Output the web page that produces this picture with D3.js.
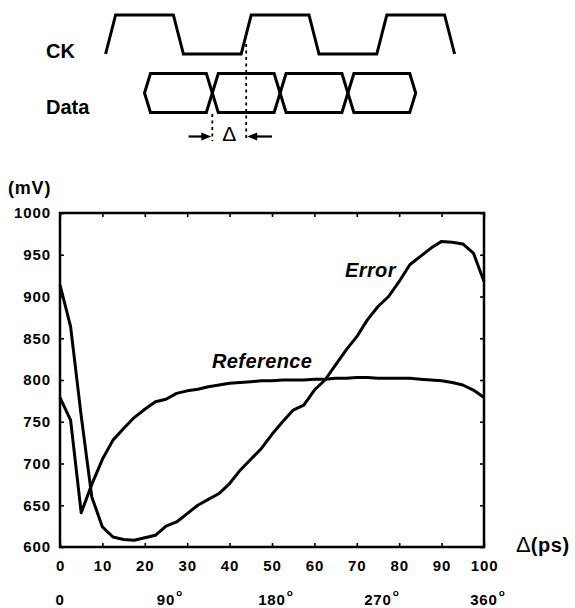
<!DOCTYPE html>
<html><head><meta charset="utf-8">
<script src="https://cdn.jsdelivr.net/npm/d3@7"></script>
<style>
body{margin:0;background:#fff;}
svg{display:block;font-family:"Liberation Sans",Arial,Helvetica,sans-serif;}
</style></head>
<body><svg id="c" width="575" height="608"></svg>
<script>
// ---- data ----
const psValues = [0,2.5,5,7.5,10,12.5,15,17.5,20,22.5,25,27.5,30,32.5,35,37.5,40,42.5,45,47.5,50,52.5,55,57.5,60,62.5,65,67.5,70,72.5,75,77.5,80,82.5,85,87.5,90,92.5,95,97.5,100];
const errorMV = [914,864,757,660,624,612,609,608,611,614,625,630,640,650,657,664,676,692,705,718,735,750,764,770,788,800,818,836,852,872,888,900,918,938,948,958,966,965,963,952,918];
const referenceMV = [779,752,641,675,705,728,742,755,765,774,777,784,787,789,792,794,796,797,798,799,799,800,800,800,801,801,802,802,803,803,802,802,802,802,801,800,799,797,794,788,779];
const xTicks = [0,10,20,30,40,50,60,70,80,90,100];
const yTicks = [600,650,700,750,800,850,900,950,1000];
const degreeTicks = [0,25,50,75,100];
const degreeLabels = ["0","90","180","270","360"];
// timing diagram (time in half clock periods)
const ckRises = [-1.5,0.5,2.5];
const ckFalls = [-0.5,1.5,3.5];
const dataCrossings = [-1,0,1,2,3];

const svg = d3.select("#c");
const x = d3.scaleLinear().domain([0,100]).range([60,484]);
const y = d3.scaleLinear().domain([600,1000]).range([547,213]);

function styleTicks(g){
  g.select(".domain").remove();
  g.selectAll(".tick line").attr("stroke","#000").attr("stroke-width",1.6);
  g.selectAll(".tick text").attr("font-size","15px").attr("font-weight","bold")
    .attr("fill","#000").attr("letter-spacing","0.9px").attr("font-family","'Liberation Sans',Arial,sans-serif");
}
svg.append("g").attr("transform","translate(0,547)")
  .call(d3.axisBottom(x).tickValues(xTicks).tickSize(-4).tickPadding(13.5).tickFormat(d3.format("d")))
  .call(styleTicks);
svg.append("g").attr("transform","translate(0,213)")
  .call(d3.axisTop(x).tickValues(xTicks).tickSize(-4).tickFormat(""))
  .call(styleTicks);
svg.append("g").attr("transform","translate(60,0)")
  .call(d3.axisLeft(y).tickValues(yTicks).tickSize(-4).tickPadding(9).tickFormat(d3.format("d")))
  .call(styleTicks);
svg.append("g").attr("transform","translate(484,0)")
  .call(d3.axisRight(y).tickValues(yTicks).tickSize(-4).tickFormat(""))
  .call(styleTicks);

// frame
svg.append("rect").attr("x",x(0)).attr("y",y(1000)).attr("width",x(100)-x(0)).attr("height",y(600)-y(1000))
  .attr("fill","none").attr("stroke","#000").attr("stroke-width",2.5);

// degree labels
const dg = svg.append("g");
degreeTicks.forEach((v,i)=>{
  const t = dg.append("text").attr("x",x(v)).attr("y",605).attr("text-anchor","middle")
    .attr("font-size","15px").attr("font-weight","bold").attr("letter-spacing","0.9px").text(degreeLabels[i]);
  if(i>0){
    const w = t.node().getComputedTextLength();
    dg.append("circle").attr("cx",x(v)+w/2+4).attr("cy",593.5).attr("r",2)
      .attr("fill","none").attr("stroke","#000").attr("stroke-width",1.2);
  }
});

// curves
const line = d3.line().x((d,i)=>x(psValues[i])).y(d=>y(d));
svg.append("path").datum(errorMV).attr("d",line).attr("fill","none").attr("stroke","#000")
  .attr("stroke-width",3).attr("stroke-linejoin","round");
svg.append("path").datum(referenceMV).attr("d",line).attr("fill","none").attr("stroke","#000")
  .attr("stroke-width",3).attr("stroke-linejoin","round");

// curve labels
svg.append("text").attr("x",212).attr("y",368).attr("font-size","20px").attr("font-weight","bold")
  .attr("font-style","italic").attr("letter-spacing","0.4px").text("Reference");
svg.append("text").attr("x",345).attr("y",277).attr("font-size","20px").attr("font-weight","bold")
  .attr("font-style","italic").attr("letter-spacing","0.4px").text("Error");

// axis titles
svg.append("text").attr("x",8).attr("y",194).attr("font-size","18px").attr("font-weight","bold")
  .attr("letter-spacing","0.8px").text("(mV)");
const xt = svg.append("text").attr("x",516).attr("y",551.5);
xt.append("tspan").attr("font-size","22px").text("Δ");
xt.append("tspan").attr("font-size","20px").attr("font-weight","bold").attr("letter-spacing","0.6px").text("(ps)");

// ---- timing diagram ----
const tx = d3.scaleLinear().domain([0,1]).range([212.3,280.1]);
const ckHigh = 15, ckLow = 54, dTop = 73.5, dBot = 112.5, dMid = 93;
const eh = 0.074, dh = 0.088;
let ckPts = [];
const edges = ckRises.map(t=>({t,up:true})).concat(ckFalls.map(t=>({t,up:false}))).sort((a,b)=>a.t-b.t);
edges.forEach(e=>{
  if(e.up){ ckPts.push([tx(e.t-eh),ckLow]); ckPts.push([tx(e.t+eh),ckHigh]); }
  else { ckPts.push([tx(e.t-eh),ckHigh]); ckPts.push([tx(e.t+eh),ckLow]); }
});
svg.append("path").attr("d",d3.line()(ckPts)).attr("fill","none").attr("stroke","#000")
  .attr("stroke-width",3).attr("stroke-linejoin","miter");
for(let i=0;i<dataCrossings.length-1;i++){
  const t0 = dataCrossings[i], t1 = dataCrossings[i+1];
  const pts = [[tx(t0),dMid],[tx(t0+dh),dTop],[tx(t1-dh),dTop],[tx(t1),dMid],[tx(t1-dh),dBot],[tx(t0+dh),dBot]];
  svg.append("path").attr("d",d3.line()(pts)+"Z").attr("fill","none").attr("stroke","#000")
    .attr("stroke-width",3).attr("stroke-linejoin","miter");
}
// dashed markers
svg.append("line").attr("x1",tx(0)).attr("x2",tx(0)).attr("y1",114).attr("y2",141)
  .attr("stroke","#000").attr("stroke-width",1.8).attr("stroke-dasharray","3,3.5");
svg.append("line").attr("x1",tx(0.5)).attr("x2",tx(0.5)).attr("y1",44).attr("y2",141)
  .attr("stroke","#000").attr("stroke-width",1.8).attr("stroke-dasharray","3,3.5");
// arrows
function arrow(x1,x2,yy){
  const s = Math.sign(x2-x1);
  svg.append("line").attr("x1",x1).attr("x2",x2 - s*6).attr("y1",yy).attr("y2",yy)
    .attr("stroke","#000").attr("stroke-width",2.2);
  svg.append("path").attr("d",`M${x2},${yy} L${x2-s*10},${yy-4} L${x2-s*10},${yy+4} Z`).attr("fill","#000");
}
arrow(tx(-0.35),tx(0)-1,136.5);
arrow(tx(0.88),tx(0.5)+1,136.5);
svg.append("text").attr("x",tx(0.25)).attr("y",141).attr("text-anchor","middle").attr("font-size","21px").text("Δ");

// labels
svg.append("text").attr("x",46).attr("y",57.5).attr("font-size","20px").attr("font-weight","bold").text("CK");
svg.append("text").attr("x",46).attr("y",114).attr("font-size","20px").attr("font-weight","bold").text("Data");
</script></body></html>
